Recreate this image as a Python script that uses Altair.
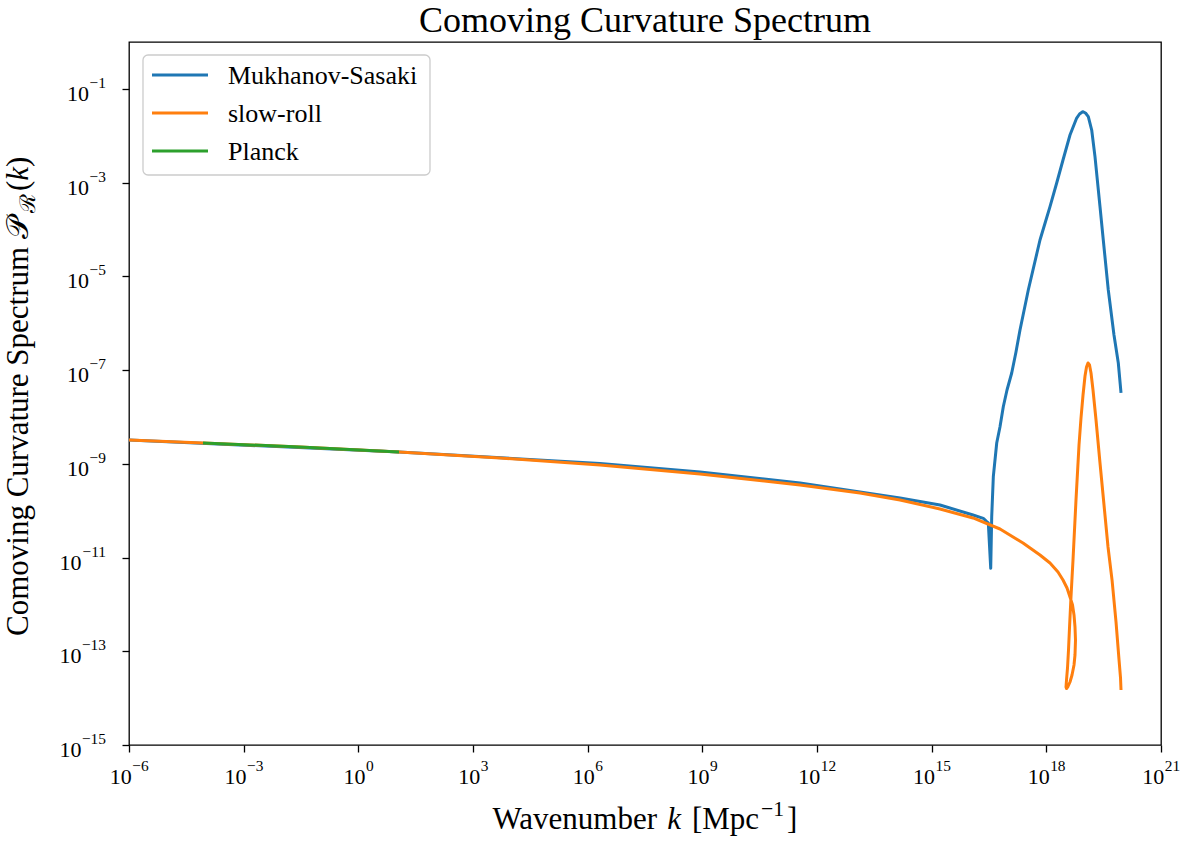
import altair as alt
import pandas as pd

# ---------------- data (log10 values) ----------------
ms_logk = [-6.000, 1.064, 6.323, 8.939, 11.555, 14.172, 15.218, 16.082, 16.351, 16.440,
           16.482, 16.545, 16.571, 16.613, 16.702, 16.788, 16.874, 16.971, 17.094, 17.206,
           17.311, 17.528, 17.834, 17.991, 18.096, 18.271, 18.436, 18.619, 18.794, 18.868,
           18.951, 19.025, 19.098, 19.187, 19.273, 19.404, 19.490, 19.621, 19.770, 19.883,
           19.954]
ms_logP = [-8.492, -8.748, -8.994, -9.175, -9.410, -9.730, -9.879, -10.093, -10.163, -10.235,
           -10.263, -11.230, -10.129, -9.275, -8.556, -8.208, -7.782, -7.425, -7.063, -6.614,
           -6.145, -5.292, -4.225, -3.798, -3.514, -3.009, -2.518, -1.984, -1.622, -1.536,
           -1.487, -1.515, -1.594, -1.878, -2.447, -3.514, -4.225, -5.292, -6.252, -6.849,
           -7.489]

sr_logk = [-6.000, -4.064, -1.526, 1.064, 3.706, 6.323, 8.939, 11.555, 13.125, 14.172,
           15.218, 16.082, 16.788, 17.390, 17.834, 18.096, 18.305, 18.436, 18.541, 18.619,
           18.685, 18.724, 18.750, 18.763, 18.750, 18.724, 18.672, 18.619, 18.567, 18.528,
           18.515, 18.528, 18.554, 18.580, 18.606, 18.645, 18.672, 18.698, 18.776, 18.855,
           18.907, 18.960, 19.012, 19.051, 19.090, 19.130, 19.169, 19.221, 19.300, 19.404,
           19.509, 19.614, 19.719, 19.823, 19.902, 19.941, 19.954]
sr_logP = [-8.492, -8.556, -8.641, -8.748, -8.876, -9.025, -9.217, -9.452, -9.623, -9.772,
           -9.964, -10.156, -10.391, -10.690, -10.946, -11.117, -11.309, -11.480, -11.650, -11.842,
           -12.013, -12.226, -12.482, -12.760, -13.080, -13.293, -13.506, -13.656, -13.752, -13.794,
           -13.762, -13.613, -13.357, -12.973, -12.503, -11.842, -11.437, -11.053, -9.772, -8.599,
           -8.023, -7.532, -7.127, -6.934, -6.849, -6.892, -7.063, -7.425, -8.065, -8.983,
           -9.879, -10.775, -11.479, -12.375, -13.186, -13.570, -13.826]

pl_logk = [-4.064, -1.526, 1.064]
pl_logP = [-8.556, -8.641, -8.748]

series_names = ["Mukhanov-Sasaki", "slow-roll", "Planck"]
series_colors = ["#1f77b4", "#ff7f0e", "#2ca02c"]

x_tick_exps = list(range(-6, 22, 3))
y_tick_exps = list(range(-15, 0, 2))

title_text = "Comoving Curvature Spectrum"

# ---------------- layout constants ----------------
W_PLOT, H_PLOT = 1032, 703
FONT = "Liberation Serif"
FS_TITLE = 36
FS_AXT = 31
FS_TICK = 22
FS_SUP = 15.4
FS_LEG = 26
LW = 3

# Times / Liberation Serif advance widths (per 1000 em)
TW = {' ': 250, 'W': 944, 'a': 444, 'v': 500, 'e': 444, 'n': 500, 'u': 500, 'm': 778,
      'b': 500, 'r': 333, 'k': 500, '[': 333, ']': 333, 'M': 889, 'p': 500, 'c': 444,
      'C': 667, 'o': 500, 'i': 278, 'g': 500, 't': 278, 'S': 556, '(': 333, ')': 333,
      '−': 564}
for _d in "0123456789":
    TW[_d] = 500
ITW = {'k': 444}


def text_width(s, size, italic=False):
    tot = 0
    for ch in s:
        if italic and ch in ITW:
            tot += ITW[ch]
        else:
            tot += TW.get(ch, 600)
    return tot * size / 1000.0


def make_df(name, lk, lp):
    return pd.DataFrame({
        "series": name,
        "k": [10.0 ** v for v in lk],
        "P": [10.0 ** v for v in lp],
        "i": list(range(len(lk))),
    })


def exp_str(e):
    return str(e).replace("-", "−")


xscale = alt.Scale(type="log", domain=[1e-6, 1e21], nice=False)
yscale = alt.Scale(type="log", domain=[1e-15, 1.0], nice=False)

common_axis = dict(title=None, grid=False, domain=False, ticks=True, tickSize=7,
                   tickWidth=1.3, tickColor="black", labels=False)

xaxis = alt.Axis(values=[10.0 ** e for e in x_tick_exps], **common_axis)
yaxis = alt.Axis(values=[10.0 ** e for e in y_tick_exps], **common_axis)


def line_layer(df, color):
    return alt.Chart(df).mark_line(color=color, strokeWidth=LW, strokeCap="butt",
                                   strokeJoin="round").encode(
        x=alt.X("k:Q", scale=xscale, axis=xaxis),
        y=alt.Y("P:Q", scale=yscale, axis=yaxis),
        order="i:Q",
    )


ms_df = make_df(series_names[0], ms_logk, ms_logP)
sr_df = make_df(series_names[1], sr_logk, sr_logP)
pl_df = make_df(series_names[2], pl_logk, pl_logP)

layers = [
    line_layer(ms_df, series_colors[0]),
    line_layer(sr_df, series_colors[1]),
    line_layer(pl_df, series_colors[2]),
]

# ---------------- tick labels: "10" with a raised exponent ----------------
BASE_W = text_width("10", FS_TICK)
for e in x_tick_exps:
    ew = text_width(exp_str(e), FS_SUP)
    total = BASE_W + ew
    d = pd.DataFrame({"k": [10.0 ** e], "b": ["10"], "s": [exp_str(e)]})
    layers.append(
        alt.Chart(d).mark_text(align="left", baseline="alphabetic", font=FONT,
                               fontSize=FS_TICK, color="black", dx=-total / 2).encode(
            x=alt.X("k:Q", scale=xscale, axis=xaxis), y=alt.value(H_PLOT + 39), text="b:N")
    )
    layers.append(
        alt.Chart(d).mark_text(align="left", baseline="alphabetic", font=FONT,
                               fontSize=FS_SUP, color="black", dx=-total / 2 + BASE_W + 0.5).encode(
            x=alt.X("k:Q", scale=xscale, axis=xaxis), y=alt.value(H_PLOT + 26), text="s:N")
    )

Y_LABEL_RIGHT = -23
ydf_all = pd.DataFrame({"P": [10.0 ** e for e in y_tick_exps],
                        "s": [exp_str(e) for e in y_tick_exps]})
layers.append(
    alt.Chart(ydf_all).mark_text(align="right", baseline="alphabetic", font=FONT,
                                 fontSize=FS_SUP, color="black", dy=-1).encode(
        x=alt.value(Y_LABEL_RIGHT), y=alt.Y("P:Q", scale=yscale, axis=yaxis), text="s:N")
)
for e in y_tick_exps:
    ew = text_width(exp_str(e), FS_SUP)
    d = pd.DataFrame({"P": [10.0 ** e], "b": ["10"]})
    layers.append(
        alt.Chart(d).mark_text(align="right", baseline="alphabetic", font=FONT,
                               fontSize=FS_TICK, color="black", dy=12).encode(
            x=alt.value(Y_LABEL_RIGHT - ew - 0.5), y=alt.Y("P:Q", scale=yscale, axis=yaxis),
            text="b:N")
    )

one = pd.DataFrame({"t": [""]})

# ---------------- legend ----------------
layers.append(
    alt.Chart(one).mark_rect(fill="white", fillOpacity=0.8, stroke="#cccccc",
                             strokeWidth=1.3, cornerRadius=5).encode(
        x=alt.value(14), x2=alt.value(301), y=alt.value(13), y2=alt.value(133))
)
for idx, (name, col) in enumerate(zip(series_names, series_colors)):
    ypix = 33 + 38 * idx
    layers.append(
        alt.Chart(one).mark_rule(color=col, strokeWidth=LW).encode(
            x=alt.value(23), x2=alt.value(79), y=alt.value(ypix))
    )
    layers.append(
        alt.Chart(pd.DataFrame({"t": [name]})).mark_text(
            align="left", baseline="middle", font=FONT, fontSize=FS_LEG, color="black").encode(
            x=alt.value(99), y=alt.value(ypix + 1), text="t:N")
    )

# ---------------- chart title ----------------
layers.append(
    alt.Chart(pd.DataFrame({"t": [title_text]})).mark_text(
        align="center", baseline="alphabetic", font=FONT, fontSize=FS_TITLE, color="black").encode(
        x=alt.value(W_PLOT / 2), y=alt.value(-10), text="t:N")
)

SPACE = TW[' '] / 1000.0

# ---------------- x axis title: Wavenumber k [Mpc^-1] ----------------
# (text, style, scale, rise, extra gap after in em)
x_pieces = [("Wavenumber", "normal", 1.0, 0.0, SPACE), ("k", "italic", 1.0, 0.0, SPACE + 0.1),
            ("[Mpc", "normal", 1.0, 0.0, 0.06), ("−1", "normal", 0.7, 0.42, 0.1),
            ("]", "normal", 1.0, 0.0, 0.0)]
widths = [text_width(s, FS_AXT * sc, st == "italic") + gap * FS_AXT
          for s, st, sc, _, gap in x_pieces]
xstart = W_PLOT / 2 - sum(widths) / 2
xbase = 787
cur = xstart
for (s, st, sc, rise, gap), w in zip(x_pieces, widths):
    layers.append(
        alt.Chart(pd.DataFrame({"t": [s]})).mark_text(
            align="left", baseline="alphabetic", font=FONT, fontSize=FS_AXT * sc,
            fontStyle=st, color="black").encode(
            x=alt.value(cur), y=alt.value(xbase - rise * FS_AXT), text="t:N")
    )
    cur += w

# ---------------- y axis title: Comoving Curvature Spectrum P_R(k) ----------------
y_pieces = [("Comoving Curvature Spectrum", "normal", 1.0, 0.0, 0),
            ("𝒫", "normal", 1.0, 0.0, 0.85),
            ("ℛ", "normal", 0.7, 0.22, 1.0),
            ("(", "normal", 1.0, 0.0, 0),
            ("k", "italic", 1.0, 0.0, 0),
            (")", "normal", 1.0, 0.0, 0)]
ywidths = []
for j, (s, st, sc, drop, wem) in enumerate(y_pieces):
    if wem:
        w = wem * FS_AXT * sc
    else:
        w = text_width(s, FS_AXT * sc, st == "italic")
    if j == 0:
        w += SPACE * FS_AXT
    ywidths.append(w)
ystart = 594
ybase = -101
cur = ystart
for (s, st, sc, drop, wem), w in zip(y_pieces, ywidths):
    layers.append(
        alt.Chart(pd.DataFrame({"t": [s]})).mark_text(
            align="left", baseline="alphabetic", angle=270, font=FONT, fontSize=FS_AXT * sc,
            fontStyle=st, color="black").encode(
            x=alt.value(ybase + drop * FS_AXT), y=alt.value(cur), text="t:N")
    )
    cur -= w

chart = alt.layer(*layers).properties(
    width=W_PLOT, height=H_PLOT,
    padding={"left": 129, "top": 42, "right": 32, "bottom": 100},
    autosize=alt.AutoSizeParams(type="none"),
    background="white",
).configure_view(stroke="black", strokeWidth=1.3)

chart.save("out.html", embed_options={"renderer": "svg", "actions": False})
